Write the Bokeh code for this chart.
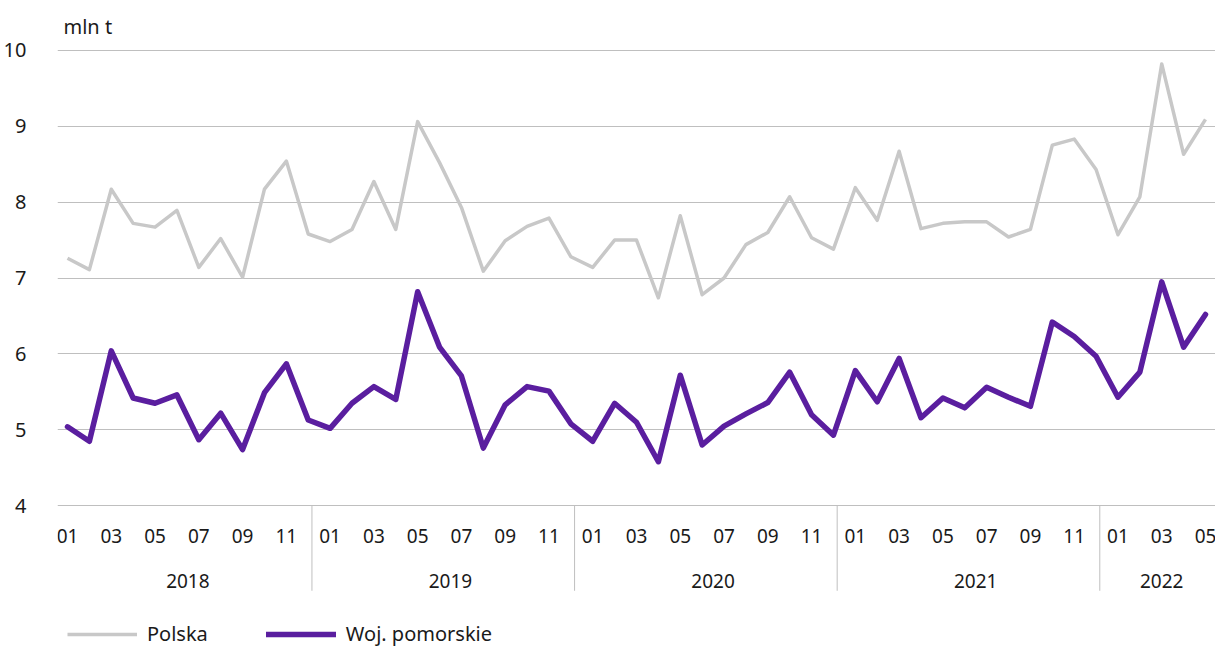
from bokeh.plotting import figure
from bokeh.models import Range1d, LinearAxis, FixedTicker, Legend, LegendItem, Title
from bokeh.core.properties import value
from bokeh.embed import file_html
from bokeh.resources import INLINE

years = ["2018", "2019", "2020", "2021", "2022"]
months_per_year = [12, 12, 12, 12, 5]
month_names = ["01", "02", "03", "04", "05", "06", "07", "08", "09", "10", "11", "12"]

polska = [7.26, 7.11, 8.17, 7.72, 7.67, 7.89, 7.14, 7.52, 7.01, 8.17, 8.54, 7.58,
          7.48, 7.64, 8.27, 7.64, 9.06, 8.52, 7.93, 7.09, 7.49, 7.68, 7.79, 7.28,
          7.14, 7.50, 7.50, 6.74, 7.82, 6.78, 7.00, 7.44, 7.60, 8.07, 7.53, 7.38,
          8.19, 7.76, 8.67, 7.65, 7.72, 7.74, 7.74, 7.54, 7.64, 8.75, 8.83, 8.43,
          7.57, 8.07, 9.82, 8.63, 9.09]
pomorskie = [5.04, 4.85, 6.04, 5.42, 5.35, 5.46, 4.87, 5.22, 4.74, 5.49, 5.87, 5.13,
             5.02, 5.35, 5.57, 5.40, 6.82, 6.09, 5.71, 4.76, 5.33, 5.57, 5.51, 5.08,
             4.85, 5.35, 5.10, 4.58, 5.72, 4.80, 5.05, 5.21, 5.36, 5.76, 5.20, 4.93,
             5.78, 5.37, 5.94, 5.16, 5.42, 5.29, 5.56, 5.43, 5.31, 6.42, 6.23, 5.97,
             5.43, 5.76, 6.95, 6.09, 6.52]
y_ticks = [4, 5, 6, 7, 8, 9, 10]

FONT = "Noto Sans"
TXT = "#1a1a1a"
GRID = "#BFBFBF"

# layout: frame covers the plot plus the category-label band below it
Y_MIN_AXIS = 4
Y_TOP = 10.01
FRAME_H = 599
Y_BOTTOM = 2.12
PX = FRAME_H / (Y_TOP - Y_BOTTOM)  # pixels per unit


def below(px):
    return Y_MIN_AXIS - px / PX


# derived positions
x = list(range(len(polska)))
labels = []
for n in months_per_year:
    labels += month_names[:n]
month_ticks = [i for i in x if i % 2 == 0]
month_text = [labels[i] for i in month_ticks]
year_centers, seps = [], []
start = 0
for n in months_per_year:
    year_centers.append(start + (n - 1) / 2)
    start += n
    if start < len(x):
        seps.append(start - 0.5 - 0.33)

p = figure(frame_width=1158, frame_height=FRAME_H, output_backend="svg", toolbar_location=None,
           x_range=Range1d(-0.457, 52.457), y_range=Range1d(Y_BOTTOM, Y_TOP),
           x_axis_location=None, y_axis_location=None,
           min_border_left=55, min_border_right=2, min_border_top=49, min_border_bottom=0)
p.outline_line_color = None
p.background_fill_color = "white"
p.border_fill_color = "white"

# y axis
ya = LinearAxis(ticker=FixedTicker(ticks=y_ticks))
ya.axis_line_color = None
ya.major_tick_line_color = None
ya.minor_tick_line_color = None
ya.major_label_text_font = FONT
ya.major_label_text_font_size = "20px"
ya.major_label_text_color = TXT
ya.major_label_standoff = 25
p.add_layout(ya, "left")

p.ygrid.ticker = FixedTicker(ticks=y_ticks)
p.ygrid.grid_line_color = GRID
p.ygrid.grid_line_width = 1
p.xgrid.grid_line_color = None

# category axis drawn in the band below the value 4
p.text(x=month_ticks, y=[below(30)] * len(month_ticks), text=month_text,
       text_font=value(FONT), text_font_size="19px", text_color=TXT,
       text_align="center", text_baseline="middle")
p.text(x=year_centers, y=[below(75)] * len(year_centers), text=years,
       text_font=value(FONT), text_font_size="19px", text_color=TXT,
       text_align="center", text_baseline="middle")
p.segment(x0=seps, y0=[Y_MIN_AXIS] * len(seps), x1=seps, y1=[below(85)] * len(seps),
          line_color=GRID, line_width=1)

r1 = p.line(x, polska, line_color="#C8C8C8", line_width=3.5, line_join="round")
r2 = p.line(x, pomorskie, line_color="#5A1E9F", line_width=5.5, line_join="round", line_cap="round")

legend = Legend(items=[LegendItem(label="Polska", renderers=[r1]),
                       LegendItem(label="Woj. pomorskie", renderers=[r2])],
                orientation="horizontal", location=(10, 1))
legend.border_line_color = None
legend.background_fill_alpha = 0
legend.label_text_font = FONT
legend.label_text_font_size = "20px"
legend.label_text_color = TXT
legend.glyph_width = 70
legend.label_standoff = 10
legend.spacing = 58
legend.padding = 0
legend.margin = 0
p.add_layout(legend, "center")

p.add_layout(Title(text="mln t", align="left", offset=6, text_font=FONT,
                   text_font_size="20px", text_font_style="normal",
                   text_color=TXT, standoff=20), "above")

open("out.html", "w").write(file_html(p, INLINE))
